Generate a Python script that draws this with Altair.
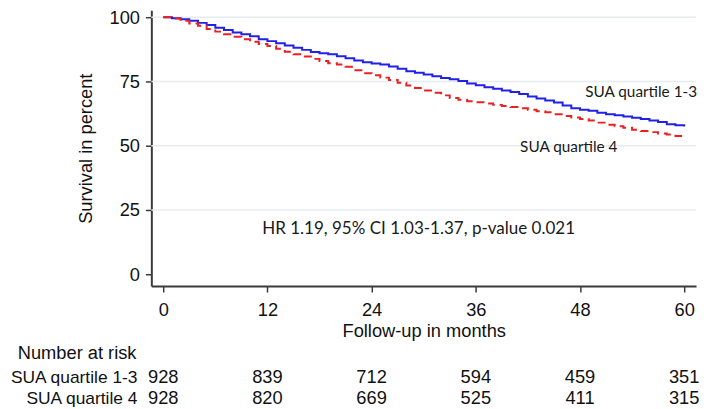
import altair as alt
import pandas as pd

# ---- data ----
groups = ["SUA quartile 1-3", "SUA quartile 4"]

blue_months = [0, 1, 2, 3, 4, 5, 6, 7, 8, 9, 10, 11, 12, 13, 14, 15, 16, 17, 18, 19, 20,
               21, 22, 23, 24, 25, 26, 27, 28, 29, 30, 31, 32, 33, 34, 35, 36, 37, 38, 39, 40,
               41, 42, 43, 44, 45, 46, 47, 48, 49, 50, 51, 52, 53, 54, 55, 56, 57, 58, 59, 60]
blue_surv = [100, 99.6, 99.2, 98.6, 97.8, 97.0, 95.9, 95.0, 94.1, 93.4, 92.6, 91.4, 90.7, 89.9,
             89.0, 88.1, 87.3, 86.5, 86.0, 85.6, 84.8, 84.0, 83.2, 82.5, 82.0, 81.6, 80.8, 80.0,
             79.0, 78.4, 77.7, 77.0, 76.4, 75.9, 75.2, 74.2, 73.5, 72.8, 72.2, 71.5, 70.9, 70.1,
             69.2, 68.4, 67.6, 66.8, 65.7, 64.6, 64.0, 63.6, 62.8, 62.3, 61.9, 61.4, 60.9, 60.4,
             59.8, 59.2, 58.4, 58.0, 57.5]

red_months = blue_months
red_surv = [100, 99.5, 98.6, 97.6, 96.7, 95.4, 94.4, 93.4, 92.4, 91.4, 90.5, 89.6, 88.8, 87.7,
            86.6, 85.6, 84.7, 83.8, 83.0, 82.1, 81.6, 80.7, 79.4, 78.2, 77.4, 76.5, 75.6, 74.5,
            73.4, 72.5, 71.5, 70.6, 69.6, 68.6, 67.9, 67.3, 66.9, 66.4, 65.9, 65.5, 65.1, 64.6,
            64.0, 63.4, 63.0, 62.3, 61.6, 61.0, 60.4, 59.8, 59.0, 58.2, 57.6, 57.0, 56.2, 55.7,
            55.3, 54.8, 54.4, 53.8, 53.5]

risk_months = [0, 12, 24, 36, 48, 60]
risk_q13 = [928, 839, 712, 594, 459, 351]
risk_q4 = [928, 820, 669, 525, 411, 315]

x_ticks = [0, 12, 24, 36, 48, 60]
y_ticks = [0, 25, 50, 75, 100]
grid_values = [25, 50, 75, 100]

hr_text = ["HR 1.19, 95% CI 1.03-1.37, p-value 0.021"]
hr_month = [11.4]
hr_surv = [15.7]

curve_label_text = ["SUA quartile 1-3", "SUA quartile 4"]
curve_label_month = [48.6, 41.1]
curve_label_surv = [69.0, 47.6]

# ---- tables ----
curves = pd.concat([
    pd.DataFrame({"month": blue_months, "surv": blue_surv, "group": groups[0]}),
    pd.DataFrame({"month": red_months, "surv": red_surv, "group": groups[1]}),
])
grid_df = pd.DataFrame({"surv": grid_values})
hr_df = pd.DataFrame({"month": hr_month, "surv": hr_surv, "label": hr_text})
cl_df = pd.DataFrame({"month": curve_label_month, "surv": curve_label_surv,
                      "label": curve_label_text})
risk1 = pd.DataFrame({"month": risk_months, "n": risk_q13})
risk2 = pd.DataFrame({"month": risk_months, "n": risk_q4})

ARIAL = "Liberation Sans"
CAL = "Lato"
FS = 18.5
AX = "#3a3a3a"
TXT = "#111"

xscale = alt.Scale(domain=[-1.37, 61.37], nice=False, zero=False)
yscale = alt.Scale(domain=[-4.6, 102.7], nice=False, zero=False)

x_axis = alt.Axis(values=x_ticks, title="Follow-up in months", grid=False,
                  domainColor=AX, domainWidth=2, tickColor=AX, tickWidth=1.5, tickSize=6,
                  labelFont=ARIAL, labelFontSize=FS, labelColor=TXT, labelPadding=9,
                  titleFont=ARIAL, titleFontSize=FS, titleFontWeight="normal",
                  titleColor=TXT, titlePadding=2)
y_axis = alt.Axis(values=y_ticks, title="Survival in percent", grid=False,
                  domainColor=AX, domainWidth=2, tickColor=AX, tickWidth=1.5, tickSize=6,
                  labelFont=ARIAL, labelFontSize=FS, labelColor=TXT, labelPadding=6,
                  titleFont=ARIAL, titleFontSize=FS, titleFontWeight="normal",
                  titleColor=TXT, titlePadding=14)

X = alt.X("month:Q", scale=xscale, axis=x_axis)
Y = alt.Y("surv:Q", scale=yscale, axis=y_axis)

grid = alt.Chart(grid_df).mark_rule(color="#e4ecf0", strokeWidth=1.5).encode(y=Y)

lines = alt.Chart(curves).mark_line(interpolate="step-after", strokeWidth=2).encode(
    x=X, y=Y,
    color=alt.Color("group:N", scale=alt.Scale(domain=groups, range=["#2020e8", "#ec2020"]),
                    legend=None),
    strokeDash=alt.StrokeDash("group:N", scale=alt.Scale(domain=groups, range=[[1, 0], [8, 5]]),
                              legend=None),
)

hr = alt.Chart(hr_df).mark_text(font=CAL, fontSize=17.2, align="left",
                                baseline="alphabetic", color="#1a1a1a").encode(
    x=X, y=Y, text="label:N")
cl = alt.Chart(cl_df).mark_text(font=CAL, fontSize=15.5, align="left",
                                baseline="alphabetic", color="#1a1a1a").encode(
    x=X, y=Y, text="label:N")

risk_title = alt.Chart(pd.DataFrame({"t": ["Number at risk"]})).mark_text(
    font=ARIAL, fontSize=FS, align="right", baseline="alphabetic", color=TXT).encode(
    x=alt.value(-15), y=alt.value(353), text="t:N")
row1_label = alt.Chart(pd.DataFrame({"t": [groups[0]]})).mark_text(
    font=ARIAL, fontSize=17.6, align="right", baseline="alphabetic", color=TXT).encode(
    x=alt.value(-14), y=alt.value(377), text="t:N")
row2_label = alt.Chart(pd.DataFrame({"t": [groups[1]]})).mark_text(
    font=ARIAL, fontSize=17.6, align="right", baseline="alphabetic", color=TXT).encode(
    x=alt.value(-14), y=alt.value(398.5), text="t:N")

row1 = alt.Chart(risk1).mark_text(font=ARIAL, fontSize=FS, align="center",
                                  baseline="alphabetic", color=TXT).encode(
    x=X, y=alt.value(377), text="n:Q")
row2 = alt.Chart(risk2).mark_text(font=ARIAL, fontSize=FS, align="center",
                                  baseline="alphabetic", color=TXT).encode(
    x=X, y=alt.value(398.5), text="n:Q")

chart = alt.layer(grid, lines, hr, cl, risk_title, row1_label, row2_label, row1, row2).properties(
    width=551, height=279,
    autosize=alt.AutoSizeParams(type="none"),
    padding={"left": 145, "top": 0, "right": 5, "bottom": 122},
    background="white",
).configure_view(strokeWidth=0)

chart.save("out.html", embed_options={"renderer": "svg", "actions": False})
